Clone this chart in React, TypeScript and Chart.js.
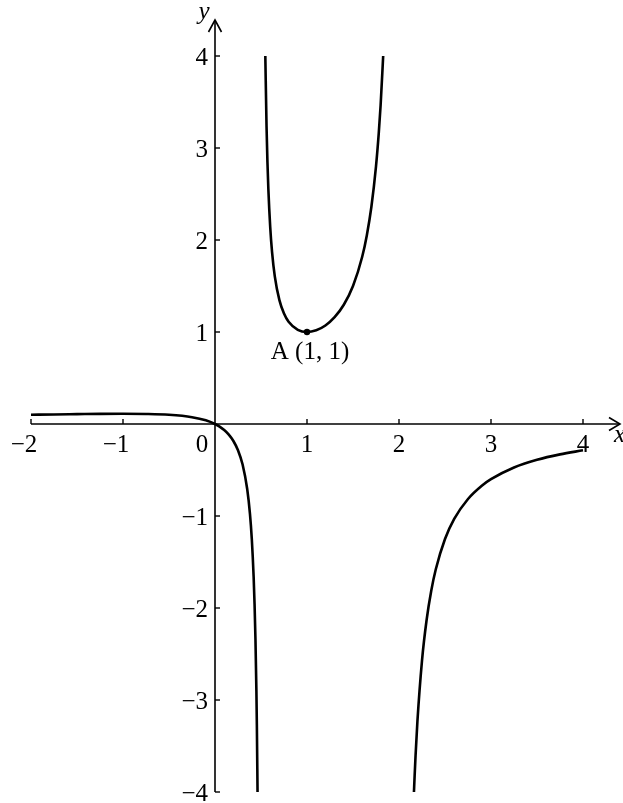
import React, { useEffect, useRef } from "react";
import { Chart, registerables } from "chart.js";

Chart.register(...registerables);

// Curve: three branches separated by vertical asymptotes
const leftBranchX = [-2, -1.75, -1.5, -1.25, -1, -0.75, -0.5, -0.25, -0.1, 0, 0.05, 0.1, 0.15, 0.2, 0.25, 0.3, 0.35, 0.38, 0.4, 0.42, 0.43, 0.44, 0.45, 0.455, 0.4625];
const leftBranchY = [0.1, 0.104, 0.107, 0.11, 0.111, 0.109, 0.1, 0.074, 0.04, 0, -0.028, -0.066, -0.116, -0.185, -0.286, -0.441, -0.707, -0.977, -1.25, -1.661, -1.956, -2.35, -2.903, -3.272, -4];

const middleBranchX = [0.547, 0.56, 0.57, 0.58, 0.6, 0.62, 0.65, 0.7, 0.75, 0.8, 0.9, 1, 1.1, 1.2, 1.3, 1.4, 1.5, 1.6, 1.65, 1.7, 1.75, 1.78, 1.8, 1.828];
const middleBranchY = [4, 3.241, 2.847, 2.553, 2.143, 1.872, 1.605, 1.346, 1.2, 1.111, 1.023, 1, 1.019, 1.071, 1.161, 1.296, 1.5, 1.818, 2.05, 2.361, 2.8, 3.161, 3.462, 4];

const rightBranchX = [2.1625, 2.17, 2.18, 2.2, 2.25, 2.3, 2.35, 2.4, 2.5, 2.6, 2.75, 2.9, 3, 3.25, 3.5, 3.75, 4];
const rightBranchY = [-4, -3.822, -3.605, -3.235, -2.571, -2.13, -1.815, -1.579, -1.25, -1.032, -0.815, -0.671, -0.6, -0.473, -0.389, -0.33, -0.286];

const pointA = { x: 1, y: 1, label: "A (1, 1)" };

const xTicks = [-2, -1, 1, 2, 3, 4];
const yTicks = [4, 3, 2, 1, -1, -2, -3, -4];
const originLabel = "0";
const xAxisTitle = "x";
const yAxisTitle = "y";

const X_MIN = -2, X_MAX = 4, Y_MIN = -4, Y_MAX = 4;

const toPoints = (xs: number[], ys: number[]) => xs.map((x, i) => ({ x, y: ys[i] }));

const FONT = '25px "Liberation Serif", "Times New Roman", serif';
const IFONT = 'italic 25px "Liberation Serif", "Times New Roman", serif';
const MINUS = "\u2212";

const axesPlugin = {
  id: "mathAxes",
  beforeDatasetsDraw(chart: any) {
    const ctx = chart.ctx as CanvasRenderingContext2D;
    const xs = chart.scales.x, ys = chart.scales.y;
    const x0 = xs.getPixelForValue(0), y0 = ys.getPixelForValue(0);
    const xl = xs.getPixelForValue(X_MIN), xr = xs.getPixelForValue(X_MAX);
    const yb = ys.getPixelForValue(Y_MIN), yt = ys.getPixelForValue(Y_MAX);
    ctx.save();
    ctx.strokeStyle = "#000";
    ctx.lineWidth = 1.6;
    ctx.lineCap = "butt";
    // x axis
    const xTip = xr + 37;
    ctx.beginPath();
    ctx.moveTo(xl, y0);
    ctx.lineTo(xTip, y0);
    ctx.stroke();
    ctx.beginPath();
    ctx.moveTo(xTip - 11, y0 - 6.5);
    ctx.lineTo(xTip, y0);
    ctx.lineTo(xTip - 11, y0 + 6.5);
    ctx.stroke();
    // y axis
    const yTip = yt - 36;
    ctx.beginPath();
    ctx.moveTo(x0, yb);
    ctx.lineTo(x0, yTip);
    ctx.stroke();
    ctx.beginPath();
    ctx.moveTo(x0 - 6.5, yTip + 12);
    ctx.lineTo(x0, yTip);
    ctx.lineTo(x0 + 6.5, yTip + 12);
    ctx.stroke();
    // ticks
    ctx.lineWidth = 1.4;
    xTicks.forEach((v) => {
      const px = xs.getPixelForValue(v);
      ctx.beginPath();
      ctx.moveTo(px, y0);
      ctx.lineTo(px, y0 - 5);
      ctx.stroke();
    });
    yTicks.forEach((v) => {
      const py = ys.getPixelForValue(v);
      ctx.beginPath();
      ctx.moveTo(x0, py);
      ctx.lineTo(x0 + 5, py);
      ctx.stroke();
    });
    ctx.restore();
  },
  afterDraw(chart: any) {
    const ctx = chart.ctx as CanvasRenderingContext2D;
    const xs = chart.scales.x, ys = chart.scales.y;
    const x0 = xs.getPixelForValue(0), y0 = ys.getPixelForValue(0);
    ctx.save();
    ctx.fillStyle = "#000";
    ctx.font = FONT;
    ctx.textBaseline = "alphabetic";
    // x tick labels: digit centred on tick, minus hanging left
    xTicks.forEach((v) => {
      const px = xs.getPixelForValue(v);
      const digits = String(Math.abs(v));
      const w = ctx.measureText(digits).width;
      ctx.textAlign = "center";
      ctx.fillText(digits, px, y0 + 28);
      if (v < 0) {
        ctx.textAlign = "right";
        ctx.fillText(MINUS, px - w / 2, y0 + 28);
      }
    });
    // y tick labels
    yTicks.forEach((v) => {
      const py = ys.getPixelForValue(v);
      ctx.textAlign = "right";
      ctx.fillText((v < 0 ? MINUS : "") + String(Math.abs(v)), x0 - 7, py + 8.5);
    });
    // origin
    ctx.textAlign = "center";
    ctx.fillText(originLabel, x0 - 13, y0 + 28);
    // point label
    const ax = xs.getPixelForValue(pointA.x), ay = ys.getPixelForValue(pointA.y);
    ctx.fillText(pointA.label, ax + 3, ay + 27);
    // axis titles
    ctx.font = IFONT;
    ctx.textAlign = "left";
    ctx.fillText(xAxisTitle, xs.getPixelForValue(X_MAX) + 31, y0 + 18);
    ctx.textAlign = "center";
    ctx.fillText(yAxisTitle, x0 - 11, ys.getPixelForValue(Y_MAX) - 37);
    ctx.restore();
  },
};

export default function App() {
  const canvasRef = useRef<HTMLCanvasElement | null>(null);
  useEffect(() => {
    if (!canvasRef.current) return;
    const lineStyle = {
      showLine: true,
      borderColor: "#000",
      borderWidth: 2.6,
      pointRadius: 0,
      fill: false,
      cubicInterpolationMode: "monotone" as const,
      clip: false as any,
    };
    const chart = new Chart(canvasRef.current, {
      type: "line",
      data: {
        datasets: [
          { ...lineStyle, data: toPoints(leftBranchX, leftBranchY) },
          { ...lineStyle, data: toPoints(middleBranchX, middleBranchY) },
          { ...lineStyle, data: toPoints(rightBranchX, rightBranchY) },
          {
            data: [{ x: pointA.x, y: pointA.y }],
            showLine: false,
            pointRadius: 3.2,
            pointBackgroundColor: "#000",
            pointBorderColor: "#000",
            borderWidth: 0,
            clip: false as any,
          },
        ],
      },
      options: {
        responsive: false,
        animation: false,
        devicePixelRatio: 1,
        layout: { padding: { left: 31, right: 40, top: 56, bottom: 11 } },
        plugins: { legend: { display: false }, tooltip: { enabled: false } },
        scales: {
          x: { type: "linear", min: X_MIN, max: X_MAX, display: false },
          y: { type: "linear", min: Y_MIN, max: Y_MAX, display: false },
        },
        events: [],
      },
      plugins: [axesPlugin],
    });
    return () => chart.destroy();
  }, []);
  return (
    <div style={{ position: "absolute", left: 0, top: 0, width: 623, height: 803, background: "#fff" }}>
      <canvas ref={canvasRef} width={623} height={803} style={{ display: "block" }} />
    </div>
  );
}
